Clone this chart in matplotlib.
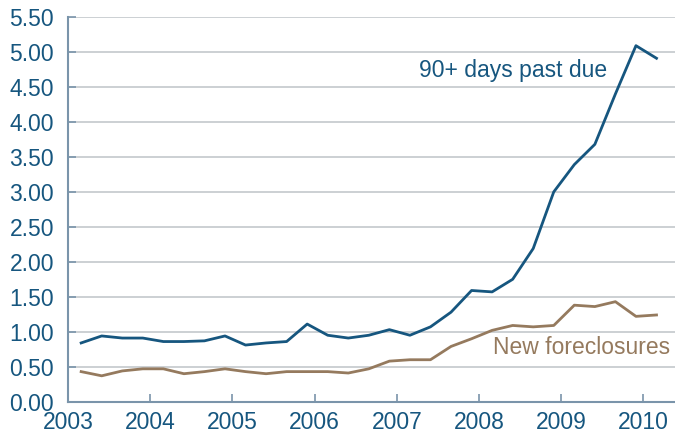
import matplotlib
matplotlib.use("Agg")
import matplotlib.pyplot as plt

# quarterly observations, 2003Q1 .. 2010Q1
years = [2003] * 4 + [2004] * 4 + [2005] * 4 + [2006] * 4 + [2007] * 4 + [2008] * 4 + [2009] * 4 + [2010]
quarters = [1, 2, 3, 4] * 7 + [1]

past_due_90 = [0.84, 0.94, 0.91, 0.91, 0.86, 0.86, 0.87, 0.94,
               0.81, 0.84, 0.86, 1.11, 0.95, 0.91, 0.95, 1.03,
               0.95, 1.07, 1.28, 1.59, 1.57, 1.75, 2.19, 3.00,
               3.39, 3.68, 4.40, 5.09, 4.91]

new_foreclosures = [0.43, 0.37, 0.44, 0.47, 0.47, 0.40, 0.43, 0.47,
                    0.43, 0.40, 0.43, 0.43, 0.43, 0.41, 0.47, 0.58,
                    0.60, 0.60, 0.79, 0.90, 1.02, 1.09, 1.07, 1.09,
                    1.38, 1.36, 1.43, 1.22, 1.24]

year_ticks = [2003, 2004, 2005, 2006, 2007, 2008, 2009, 2010]
y_ticks = [0, 0.5, 1, 1.5, 2, 2.5, 3, 3.5, 4, 4.5, 5, 5.5]

blue = "#16567f"
brown = "#957a5e"
spine = "#7a94aa"

plt.rcParams["font.family"] = ["Liberation Sans", "DejaVu Sans"]

# mid-quarter positions on a decimal-year axis
x = [y + (q - 1) / 4 + 0.16 for y, q in zip(years, quarters)]

fig = plt.figure(figsize=(6.75, 4.36), dpi=100)
ax = fig.add_axes([68 / 675, 1 - 401.7 / 436, (675 - 68) / 675, (401.7 - 17) / 436])

ax.plot(x, past_due_90, color=blue, lw=2)
ax.plot(x, new_foreclosures, color=brown, lw=2)

ax.set_xlim(2003, 2010.385)
ax.set_ylim(0, 5.5)
ax.set_xticks(year_ticks)
ax.set_xticklabels([str(t) for t in year_ticks])
ax.set_yticks(y_ticks)
ax.set_yticklabels(["%.2f" % v for v in y_ticks])
ax.grid(axis="y", color="#c4c8cc", lw=1.2)
ax.set_axisbelow(True)

for s in ["top", "right"]:
    ax.spines[s].set_visible(False)
for s in ["left", "bottom"]:
    ax.spines[s].set_color(spine)
    ax.spines[s].set_linewidth(1.5)
ax.tick_params(direction="in", length=6, width=1.2, color=spine,
               labelsize=16.5, labelcolor=blue)
ax.tick_params(axis="y", pad=10)
ax.tick_params(axis="x", pad=7)

ax.text(2008.41, 4.74, "90+ days past due", color=blue, fontsize=16.5, ha="center", va="center")
ax.text(2009.25, 0.77, "New foreclosures", color=brown, fontsize=16.5, ha="center", va="center")

fig.savefig("out.png", dpi=100)
